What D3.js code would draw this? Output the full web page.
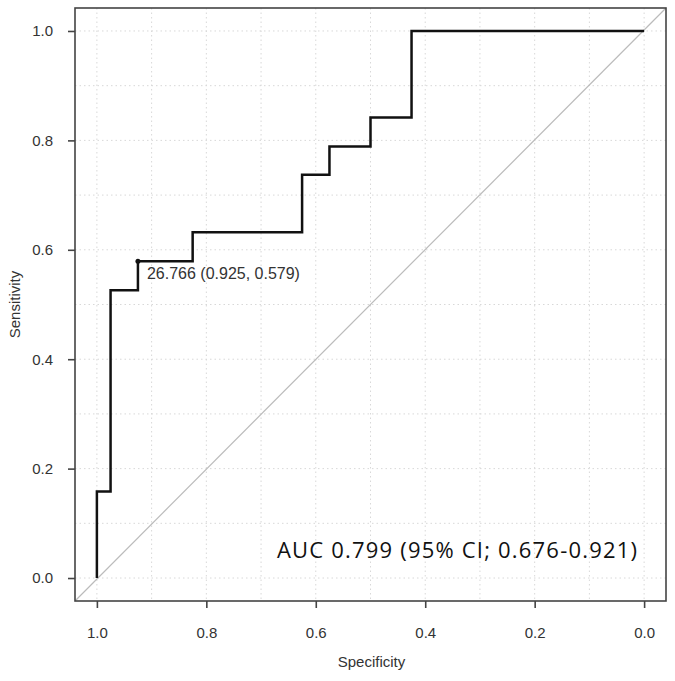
<!DOCTYPE html>
<html>
<head>
<meta charset="utf-8">
<script src="https://cdn.jsdelivr.net/npm/d3@7"></script>
<style>
  body { margin: 0; background: #fff; }
  text { font-family: "Liberation Sans", Arial, sans-serif; }
</style>
</head>
<body>
<script>
// ROC curve, drawn as steps (specificity decreasing left->right)
var specificity = [1.0, 1.0, 0.975, 0.975, 0.925, 0.925, 0.825, 0.825, 0.625, 0.625, 0.575, 0.575, 0.5, 0.5, 0.425, 0.425, 0.0];
var sensitivity = [0.0, 0.158, 0.158, 0.526, 0.526, 0.579, 0.579, 0.632, 0.632, 0.737, 0.737, 0.789, 0.789, 0.842, 0.842, 1.0, 1.0];
var tickValues = [1.0, 0.8, 0.6, 0.4, 0.2, 0.0];
var gridValues = [0, 0.1, 0.2, 0.3, 0.4, 0.5, 0.6, 0.7, 0.8, 0.9, 1.0];
var bestPoint = { threshold: 26.766, spec: 0.925, sens: 0.579 };
var aucLabel = 'AUC 0.799 (95% CI; 0.676-0.921)';

(function() {
  var W = 675, H = 681;
  var pLeft = 75, pTop = 8, pRight = 666, pBottom = 601;

  var svg = d3.select('body').append('svg')
    .attr('width', W).attr('height', H);

  var x = d3.scaleLinear().domain([1.04, -0.04]).range([pLeft, pRight]);
  var y = d3.scaleLinear().domain([-0.042, 1.042]).range([pBottom, pTop]);

  // grid
  var grid = svg.append('g').attr('class', 'grid');
  grid.selectAll('line.v').data(gridValues).enter().append('line')
    .attr('class', 'v')
    .attr('x1', function(d) { return x(d); }).attr('x2', function(d) { return x(d); })
    .attr('y1', pTop).attr('y2', pBottom)
    .attr('stroke', '#d8d8d8').attr('stroke-dasharray', '1.5,3');
  grid.selectAll('line.h').data(gridValues).enter().append('line')
    .attr('class', 'h')
    .attr('y1', function(d) { return y(d); }).attr('y2', function(d) { return y(d); })
    .attr('x1', pLeft).attr('x2', pRight)
    .attr('stroke', '#d8d8d8').attr('stroke-dasharray', '1.5,3');

  // diagonal corner to corner
  svg.append('line')
    .attr('x1', pLeft).attr('y1', pBottom).attr('x2', pRight).attr('y2', pTop)
    .attr('stroke', '#bbb').attr('stroke-width', 1.2);

  // frame
  svg.append('rect')
    .attr('x', pLeft).attr('y', pTop)
    .attr('width', pRight - pLeft).attr('height', pBottom - pTop)
    .attr('fill', 'none').attr('stroke', '#444').attr('stroke-width', 1.6);

  // axes
  var xAxis = d3.axisBottom(x).tickValues(tickValues).tickFormat(d3.format('.1f'))
    .tickSize(7).tickSizeOuter(0);
  var yAxis = d3.axisLeft(y).tickValues(tickValues).tickFormat(d3.format('.1f'))
    .tickSize(7).tickSizeOuter(0);

  var gx = svg.append('g').attr('transform', 'translate(0,' + pBottom + ')').call(xAxis);
  var gy = svg.append('g').attr('transform', 'translate(' + pLeft + ',0)').call(yAxis);
  [gx, gy].forEach(function(g) {
    g.select('.domain').remove();
    g.selectAll('.tick line').attr('stroke', '#444').attr('stroke-width', 1.6);
    g.selectAll('.tick text').attr('fill', '#333')
      .style('font-family', '"Liberation Sans", Arial, sans-serif')
      .style('font-size', '15px');
  });
  gx.selectAll('.tick text').attr('y', 26).attr('dy', '0.71em');
  gy.selectAll('.tick text').attr('x', -22);

  // axis titles
  svg.append('text')
    .attr('x', (pLeft + pRight) / 2 + 1).attr('y', 667)
    .attr('text-anchor', 'middle').attr('fill', '#333')
    .style('font-size', '15px').text('Specificity');
  svg.append('text')
    .attr('transform', 'translate(20,' + ((pTop + pBottom) / 2) + ') rotate(-90)')
    .attr('text-anchor', 'middle').attr('fill', '#333')
    .style('font-size', '15px').text('Sensitivity');

  // ROC curve
  var pts = specificity.map(function(s, i) { return [s, sensitivity[i]]; });
  var line = d3.line()
    .x(function(d) { return x(d[0]); })
    .y(function(d) { return y(d[1]); });
  svg.append('path')
    .datum(pts)
    .attr('d', line)
    .attr('fill', 'none').attr('stroke', '#111').attr('stroke-width', 2.5);

  // best threshold
  svg.append('circle')
    .attr('cx', x(bestPoint.spec)).attr('cy', y(bestPoint.sens))
    .attr('r', 2.5).attr('fill', '#111');
  svg.append('text')
    .attr('x', x(bestPoint.spec) + 9).attr('y', y(bestPoint.sens) + 18)
    .attr('fill', '#333').style('font-size', '16px')
    .text(bestPoint.threshold + ' (' + bestPoint.spec.toFixed(3) + ', ' + bestPoint.sens.toFixed(3) + ')');

  // AUC annotation
  svg.append('text')
    .attr('x', 277).attr('y', 558)
    .attr('fill', '#111')
    .style('font-family', '"Open Sans", "Noto Sans", sans-serif')
    .style('font-size', '22px')
    .attr('textLength', 360).attr('lengthAdjust', 'spacing')
    .text(aucLabel);
})();
</script>
</body>
</html>
